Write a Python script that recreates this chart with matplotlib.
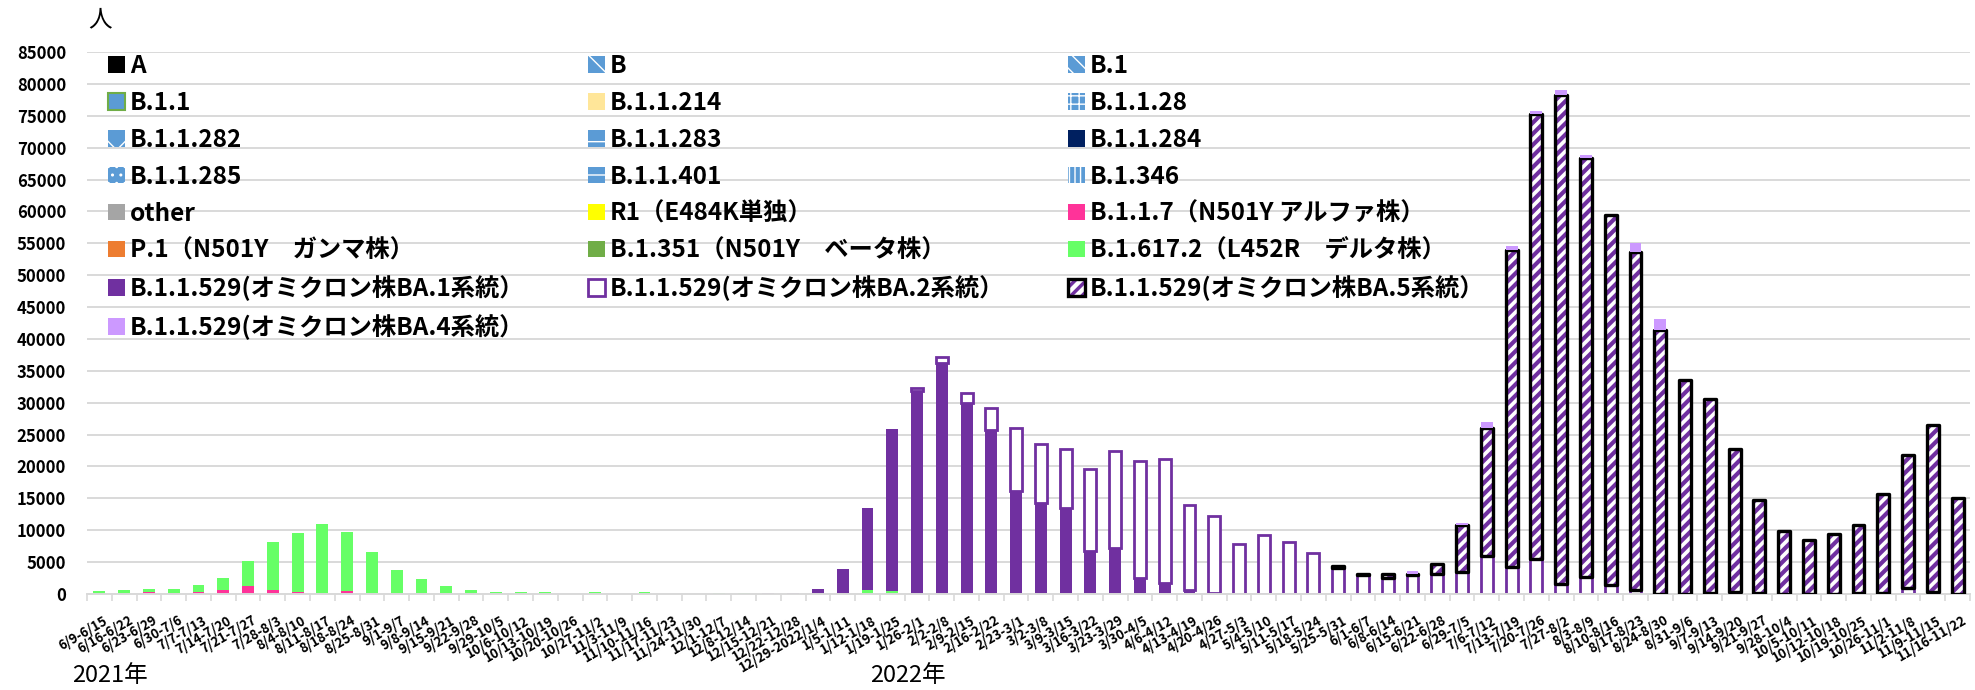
import numpy as np
import matplotlib
matplotlib.use("Agg")
import matplotlib.pyplot as plt
import matplotlib.transforms as mtransforms
from matplotlib.patches import Patch
from matplotlib.legend_handler import HandlerTuple

plt.rcParams["font.family"] = ["Noto Sans CJK JP", "DejaVu Sans"]
plt.rcParams["hatch.linewidth"] = 3.0

# ---- weekly periods (2021/6/9 - 2022/11/22) ----
weeks = [
    "6/9-6/15", "6/16-6/22", "6/23-6/29", "6/30-7/6", "7/7-7/13", "7/14-7/20",
    "7/21-7/27", "7/28-8/3", "8/4-8/10", "8/11-8/17", "8/18-8/24", "8/25-8/31",
    "9/1-9/7", "9/8-9/14", "9/15-9/21", "9/22-9/28", "9/29-10/5", "10/6-10/12",
    "10/13-10/19", "10/20-10/26", "10/27-11/2", "11/3-11/9", "11/10-11/16",
    "11/17-11/23", "11/24-11/30", "12/1-12/7", "12/8-12/14", "12/15-12/21",
    "12/22-12/28", "12/29-2022/1/4", "1/5-1/11", "1/12-1/18", "1/19-1/25",
    "1/26-2/1", "2/2-2/8", "2/9-2/15", "2/16-2/22", "2/23-3/1", "3/2-3/8",
    "3/9-3/15", "3/16-3/22", "3/23-3/29", "3/30-4/5", "4/6-4/12", "4/13-4/19",
    "4/20-4/26", "4/27-5/3", "5/4-5/10", "5/11-5/17", "5/18-5/24", "5/25-5/31",
    "6/1-6/7", "6/8-6/14", "6/15-6/21", "6/22-6/28", "6/29-7/5", "7/6-7/12",
    "7/13-7/19", "7/20-7/26", "7/27-8/2", "8/3-8/9", "8/10-8/16", "8/17-8/23",
    "8/24-8/30", "8/31-9/6", "9/7-9/13", "9/14-9/20", "9/21-9/27", "9/28-10/4",
    "10/5-10/11", "10/12-10/18", "10/19-10/25", "10/26-11/1", "11/2-11/8",
    "11/9-11/15", "11/16-11/22",
]

# ---- detected cases per lineage (people / week) ----
alpha = [0, 0, 300, 100, 300, 700, 1200, 700, 300, 0,
         450, 0, 0, 0, 0, 0, 0, 0, 0, 0,
         0, 0, 0, 0, 0, 0, 0, 0, 0, 0,
         0, 0, 0, 0, 0, 0, 0, 0, 0, 0,
         0, 0, 0, 0, 0, 0, 0, 0, 0, 0,
         0, 0, 0, 0, 0, 0, 0, 0, 0, 0,
         0, 0, 0, 0, 0, 0, 0, 0, 0, 0,
         0, 0, 0, 0, 0, 0]
delta = [450, 650, 550, 750, 1100, 1750, 3900, 7500, 9300, 11000,
         9250, 6600, 3700, 2300, 1200, 700, 300, 300, 300, 0,
         300, 0, 300, 0, 0, 200, 200, 0, 0, 0,
         0, 650, 500, 0, 0, 0, 0, 0, 0, 0,
         0, 0, 0, 0, 0, 0, 0, 0, 0, 0,
         0, 0, 0, 0, 0, 0, 0, 0, 0, 0,
         0, 0, 0, 0, 0, 0, 0, 0, 0, 0,
         0, 0, 0, 0, 0, 0]
ba1 = [0, 0, 0, 0, 0, 0, 0, 0, 0, 0,
       0, 0, 0, 0, 0, 0, 0, 0, 0, 0,
       0, 0, 0, 0, 0, 0, 0, 200, 200, 850,
       3900, 12900, 25300, 31900, 36200, 29900, 25700, 16100, 14300, 13500,
       6700, 7200, 2500, 1700, 600, 100, 0, 0, 0, 0,
       0, 0, 0, 0, 0, 0, 0, 0, 0, 0,
       0, 0, 0, 0, 0, 0, 0, 0, 0, 0,
       0, 0, 0, 0, 0, 0]
ba2 = [0, 0, 0, 0, 0, 0, 0, 0, 0, 0,
       0, 0, 0, 0, 0, 0, 0, 0, 0, 0,
       0, 0, 0, 0, 0, 0, 0, 0, 0, 0,
       0, 0, 0, 400, 1000, 1600, 3450, 10000, 9200, 9300,
       12900, 15300, 18300, 19500, 13400, 12100, 7800, 9200, 8100, 6500,
       4100, 2950, 2500, 3000, 3100, 3500, 5900, 4200, 5500, 1600,
       2700, 1450, 600, 0, 0, 200, 300, 150, 0, 0,
       0, 200, 200, 1000, 300, 0]
ba5 = [0, 0, 0, 0, 0, 0, 0, 0, 0, 0,
       0, 0, 0, 0, 0, 0, 0, 0, 0, 0,
       0, 0, 0, 0, 0, 0, 0, 0, 0, 0,
       0, 0, 0, 0, 0, 0, 0, 0, 0, 0,
       0, 0, 0, 0, 0, 0, 0, 0, 0, 0,
       300, 200, 650, 100, 1550, 7300, 20100, 49800, 69800, 76700,
       65600, 58000, 53100, 41400, 33550, 30350, 22400, 14550, 9850, 8500,
       9350, 10550, 15450, 20750, 26150, 15050]
ba4 = [0, 0, 0, 0, 0, 0, 0, 0, 0, 0,
       0, 0, 0, 0, 0, 0, 0, 0, 0, 0,
       0, 0, 0, 0, 0, 0, 0, 0, 0, 0,
       0, 0, 0, 0, 0, 0, 0, 0, 0, 0,
       0, 0, 0, 0, 0, 0, 0, 0, 0, 0,
       0, 0, 0, 450, 0, 400, 900, 500, 500, 800,
       500, 0, 1300, 1800, 0, 0, 0, 0, 0, 0,
       0, 0, 0, 0, 0, 0]

legend_labels = [
    "A", "B", "B.1",
    "B.1.1", "B.1.1.214", "B.1.1.28",
    "B.1.1.282", "B.1.1.283", "B.1.1.284",
    "B.1.1.285", "B.1.1.401", "B.1.346",
    "other", "R1（E484K単独）", "B.1.1.7（N501Y アルファ株）",
    "P.1（N501Y　ガンマ株）", "B.1.351（N501Y　ベータ株）", "B.1.617.2（L452R　デルタ株）",
    "B.1.1.529(オミクロン株BA.1系統）", "B.1.1.529(オミクロン株BA.2系統）", "B.1.1.529(オミクロン株BA.5系統）",
    "B.1.1.529(オミクロン株BA.4系統）",
]

PURPLE = "#7030A0"
BLUE = "#5B9BD5"
GRID = "#D9D9D9"

fig = plt.figure(figsize=(19.75, 6.9), dpi=100)
W, H = 1975, 690
ax_l, ax_r, ax_t, ax_b = 87, 1970, 52, 594
ax = fig.add_axes([ax_l / W, 1 - ax_b / H, (ax_r - ax_l) / W, (ax_b - ax_t) / H])

x = np.arange(len(weeks))
bw = 0.48


def stacked(values, bottom, **kw):
    v = np.asarray(values, float)
    m = v > 0
    return ax.bar(x[m], v[m], bw, bottom=bottom[m], **kw)


def hatch_lw(artists, lw):
    for a in artists:
        if hasattr(a, "set_hatch_linewidth"):
            a.set_hatch_linewidth(lw)


base = np.zeros(len(weeks))
b_alpha = stacked(alpha, base, color="#FF3399", lw=0, zorder=2)
base += np.asarray(alpha, float)
b_delta = stacked(delta, base, color="#66FF66", lw=0, zorder=2)
base += np.asarray(delta, float)
b_ba1 = stacked(ba1, base, color=PURPLE, lw=0, zorder=2)
base += np.asarray(ba1, float)
b_ba2 = stacked(ba2, base, facecolor="white", edgecolor=PURPLE, lw=2.0, zorder=2)
base += np.asarray(ba2, float)
b_ba5_fill = stacked(ba5, base, facecolor="white", edgecolor=PURPLE, hatch="///", lw=0, zorder=2)
hatch_lw(b_ba5_fill, 3.0)
b_ba5_edge = stacked(ba5, base, facecolor="none", edgecolor="black", lw=2.4,
                     joinstyle="round", zorder=3)
base += np.asarray(ba5, float)
b_ba4 = stacked(ba4, base, color="#CC99FF", lw=0, zorder=4)

# axes styling
ax.set_xlim(-0.5, len(weeks) - 0.5)
ax.set_ylim(0, 85000)
ax.set_yticks(np.arange(0, 85001, 5000))
ax.set_yticklabels([str(v) for v in range(0, 85001, 5000)], fontsize=12, fontweight="bold")
ax.tick_params(axis="y", length=0, pad=15)
ax.yaxis.grid(True, color=GRID, lw=1.4)
ax.set_axisbelow(True)
for s in ("top", "right", "left"):
    ax.spines[s].set_visible(False)
ax.spines["bottom"].set_color(GRID)
ax.spines["bottom"].set_linewidth(1.4)

ax.set_xticks(x)
ax.set_xticklabels(weeks, rotation=30, ha="right", va="top", rotation_mode="anchor",
                   fontsize=9.5, fontweight="bold")
ax.tick_params(axis="x", which="major", length=0, pad=14)
shift = mtransforms.ScaledTranslation(4 / 100, 0, fig.dpi_scale_trans)
for lab in ax.get_xticklabels():
    lab.set_transform(lab.get_transform() + shift)
ax.set_xticks(np.arange(-0.5, len(weeks), 1), minor=True)
ax.tick_params(axis="x", which="minor", length=5, width=1.2, color=GRID)

# legend
pattern_handles = [
    Patch(facecolor=BLUE, edgecolor="white", hatch="\\", lw=0),
    Patch(facecolor=BLUE, edgecolor="white", hatch="\\\\", lw=0),
    Patch(facecolor=BLUE, edgecolor="white", hatch="++", lw=0),
    Patch(facecolor=BLUE, edgecolor="white", hatch="x", lw=0),
    Patch(facecolor=BLUE, edgecolor="white", hatch="-", lw=0),
    Patch(facecolor=BLUE, edgecolor="white", hatch="..", lw=0),
    Patch(facecolor=BLUE, edgecolor="white", hatch="-", lw=0),
    Patch(facecolor=BLUE, edgecolor="white", hatch="|||", lw=0),
]
hatch_lw(pattern_handles, 1.0)
p_b, p_b1, p_b1128, p_b11282, p_b11283, p_b11285, p_b11401, p_b1346 = pattern_handles

ba5_key = (Patch(facecolor="white", edgecolor=PURPLE, hatch="///", lw=0),
           Patch(facecolor="none", edgecolor="black", lw=2.4, joinstyle="round"))

handles = [
    Patch(facecolor="black"), p_b, p_b1,
    Patch(facecolor=BLUE, edgecolor="#70AD47", lw=1.5), Patch(facecolor="#FFE699"), p_b1128,
    p_b11282, p_b11283, Patch(facecolor="#002060"),
    p_b11285, p_b11401, p_b1346,
    Patch(facecolor="#A5A5A5"), Patch(facecolor="#FFFF00"), b_alpha,
    Patch(facecolor="#ED7D31"), Patch(facecolor="#70AD47"), b_delta,
    b_ba1, b_ba2, ba5_key,
    b_ba4,
]

col_x = [108, 588, 1068]
top_y = 54
legs = []
for c in range(3):
    leg = ax.legend(handles[c::3], legend_labels[c::3], loc="upper left",
                    bbox_to_anchor=(col_x[c] / W, 1 - top_y / H),
                    bbox_transform=fig.transFigure, frameon=False,
                    borderpad=0, borderaxespad=0, handlelength=0.68,
                    handleheight=0.68, handletextpad=0.22, labelspacing=0.53,
                    prop={"size": 17.5, "weight": "bold"},
                    handler_map={tuple: HandlerTuple(ndivide=1, pad=0)})
    legs.append(leg)
for leg in legs:
    for h in leg.legend_handles:
        if h is not None and hasattr(h, "get_hatch") and h.get_hatch():
            if tuple(h.get_edgecolor()[:3]) == (1.0, 1.0, 1.0):
                hatch_lw([h], 1.0)
            else:
                hatch_lw([h], 2.5)
for leg in legs[:-1]:
    ax.add_artist(leg)

fig.text(88 / W, 1 - 20 / H, "人", fontsize=17, ha="left", va="center")
fig.text(110 / W, 1 - 676 / H, "2021年", fontsize=17, ha="center", va="center")
fig.text(908 / W, 1 - 676 / H, "2022年", fontsize=17, ha="center", va="center")

fig.savefig("out.png", dpi=100)
